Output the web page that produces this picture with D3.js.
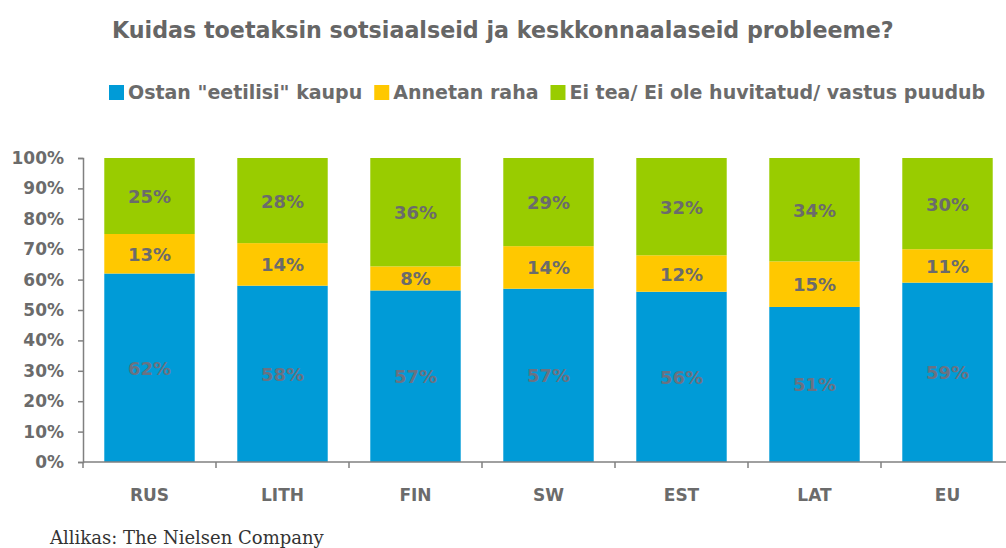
<!DOCTYPE html>
<html>
<head>
<meta charset="utf-8">
<script src="https://cdn.jsdelivr.net/npm/d3@7"></script>
<style>
  body { margin: 0; background: #fff; }
  svg { display: block; }
</style>
</head>
<body>
<div id="chart"></div>
<script>
// Chart values
const countries = ["RUS", "LITH", "FIN", "SW", "EST", "LAT", "EU"];
const ostan = [62, 58, 57, 57, 56, 51, 59];     // Ostan "eetilisi" kaupu
const annetan = [13, 14, 8, 14, 12, 15, 11];    // Annetan raha
const eiTea = [25, 28, 36, 29, 32, 34, 30];     // Ei tea / Ei ole huvitatud / vastus puudub
const seriesNames = ['Ostan "eetilisi" kaupu', "Annetan raha", "Ei tea/ Ei ole huvitatud/ vastus puudub"];
const yTicks = [0, 0.1, 0.2, 0.3, 0.4, 0.5, 0.6, 0.7, 0.8, 0.9, 1];

const width = 1006;
const height = 548;
const colors = ["#009bd7", "#ffc800", "#99cc00"];
const textGray = "#6b6b6b";
const font = "DejaVu Sans, Verdana, sans-serif";

const rows = countries.map((c, i) => ({ c, s0: ostan[i], s1: annetan[i], s2: eiTea[i] }));
const keys = ["s0", "s1", "s2"];

const svg = d3.select("#chart").append("svg")
  .attr("width", width)
  .attr("height", height);

// Scales
const x = d3.scaleBand()
  .domain(countries)
  .range([83, 83 + 7 * 133])
  .paddingInner(0.32)
  .paddingOuter(0.16);

const y = d3.scaleLinear()
  .domain([0, 1])
  .range([462, 158]);

const stack = d3.stack().keys(keys).offset(d3.stackOffsetExpand);
const layers = stack(rows);

// Title
svg.append("text")
  .attr("x", 112)
  .attr("y", 38)
  .style("font-family", font)
  .style("font-weight", "bold")
  .style("font-size", "22.2px")
  .style("fill", "#666")
  .text("Kuidas toetaksin sotsiaalseid ja keskkonnaalaseid probleeme?");

// Legend
const legend = svg.append("g").attr("transform", "translate(109, 92)");
let lx = 0;
seriesNames.forEach((name, i) => {
  const g = legend.append("g").attr("transform", `translate(${lx}, 0)`);
  g.append("rect")
    .attr("x", 0).attr("y", -7)
    .attr("width", 15).attr("height", 15)
    .attr("fill", colors[i]);
  const t = g.append("text")
    .attr("x", 19)
    .attr("y", 7)
    .style("font-family", font)
    .style("font-weight", "bold")
    .style("font-size", "19px")
    .style("fill", textGray)
    .text(name);
  lx += 19 + t.node().getComputedTextLength() + 12;
});

// Bars
const layerG = svg.append("g")
  .selectAll("g")
  .data(layers)
  .join("g")
  .attr("fill", (d, i) => colors[i]);

layerG.selectAll("rect")
  .data(d => d)
  .join("rect")
  .attr("x", d => x(d.data.c))
  .attr("y", d => y(d[1]))
  .attr("width", x.bandwidth())
  .attr("height", d => y(d[0]) - y(d[1]));

// Segment labels
layerG.selectAll("text")
  .data((d, i) => d.map(p => ({ p, key: keys[i], i })))
  .join("text")
  .attr("x", d => x(d.p.data.c) + x.bandwidth() / 2)
  .attr("y", d => (y(d.p[0]) + y(d.p[1])) / 2 + 7)
  .attr("text-anchor", "middle")
  .style("font-family", font)
  .style("font-weight", "bold")
  .style("font-size", "18px")
  .style("fill", d => d.i === 0 ? "#6a7282" : textGray)
  .text(d => d.p.data[d.key] + "%");

// Y axis
const yAxis = svg.append("g")
  .attr("transform", "translate(83, 0)")
  .call(d3.axisLeft(y).tickValues(yTicks).tickFormat(d3.format(".0%")).tickSize(5));
yAxis.select(".domain").attr("stroke", "#808080").attr("stroke-width", 1.5);
yAxis.selectAll(".tick line").attr("stroke", "#808080").attr("stroke-width", 1.5);
yAxis.selectAll(".tick text")
  .attr("x", -19)
  .style("font-family", font)
  .style("font-weight", "bold")
  .style("font-size", "17px")
  .style("fill", textGray);

// X axis with ticks between categories
const xAxisG = svg.append("g").attr("transform", "translate(0, 462)");
xAxisG.append("line")
  .attr("x1", x.range()[0]).attr("x2", x.range()[1])
  .attr("y1", 0).attr("y2", 0)
  .attr("stroke", "#808080").attr("stroke-width", 1.5);
const step = x.step();
xAxisG.selectAll(".sep")
  .data(countries)
  .join("line")
  .attr("class", "sep")
  .attr("x1", d => x(d) - x.paddingInner() * step / 2)
  .attr("x2", d => x(d) - x.paddingInner() * step / 2)
  .attr("y1", 0).attr("y2", 6)
  .attr("stroke", "#808080").attr("stroke-width", 1.5);
xAxisG.selectAll(".lbl")
  .data(countries)
  .join("text")
  .attr("class", "lbl")
  .attr("x", d => x(d) + x.bandwidth() / 2)
  .attr("y", 39)
  .attr("text-anchor", "middle")
  .style("font-family", font)
  .style("font-weight", "bold")
  .style("font-size", "17px")
  .style("fill", textGray)
  .text(d => d);

// Source
svg.append("text")
  .attr("x", 50)
  .attr("y", 544)
  .style("font-family", "DejaVu Serif, Times New Roman, serif")
  .style("font-size", "18px")
  .style("fill", "#333")
  .text("Allikas: The Nielsen Company");
</script>
</body>
</html>
